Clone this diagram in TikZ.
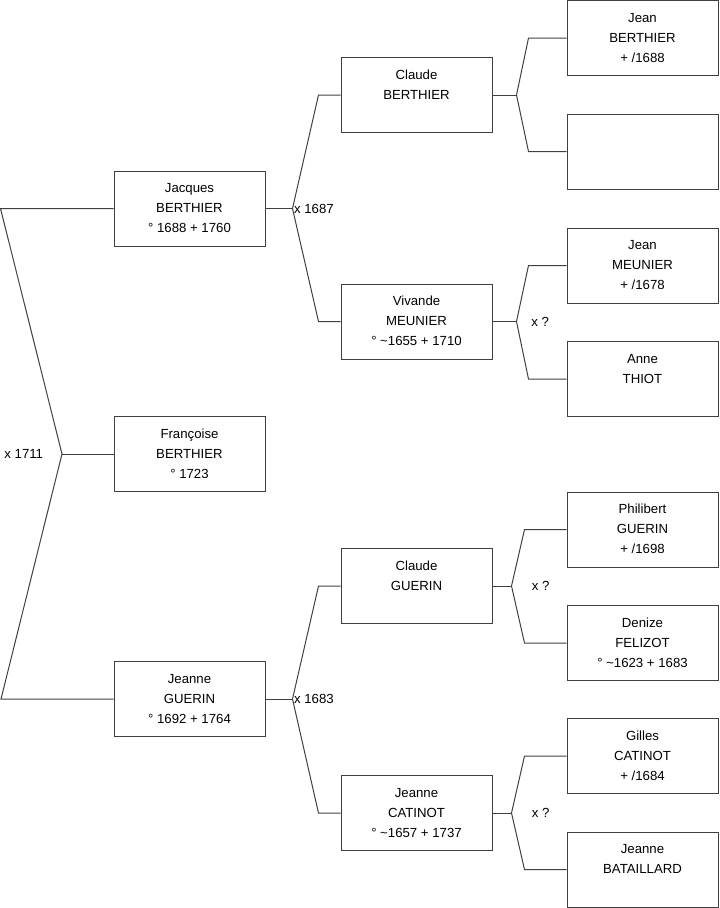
\documentclass[tikz,border=0pt]{standalone}
\usepackage{fontspec}
\setmainfont{Liberation Sans}
\usetikzlibrary{positioning}

\begin{document}
\begin{tikzpicture}[x=0.75pt, y=-0.75pt,
      every node/.style={font=\fontsize{9.9}{15}\selectfont},
      pers/.style={draw=black!75, line width=0.75pt, minimum width=113.25pt,
          minimum height=56.25pt, inner sep=0pt, align=center},
      lnk/.style={draw=black!75, line width=0.75pt},
      lbl/.style={inner sep=0pt},
    ]
    \useasboundingbox (0,0) rectangle (719,908);

    % Persons: name / x / y / first name / surname / dates
    \foreach \n/\x/\y/\a/\b/\c in {
      jacques/189.5/208.5/Jacques/BERTHIER/{° 1688 + 1760},
        francoise/189.5/454/Françoise/BERTHIER/{° 1723},
        jeanneG/189.5/699/Jeanne/GUERIN/{° 1692 + 1764},
        claudeB/416.5/95/Claude/BERTHIER/{},
        vivande/416.5/321.5/Vivande/MEUNIER/{° \textasciitilde1655 + 1710},
        claudeG/416.5/586/Claude/GUERIN/{},
        jeanneC/416.5/813/Jeanne/CATINOT/{° \textasciitilde1657 + 1737},
        jeanB/642.5/38/Jean/BERTHIER/{+ /1688},
        vide/642.5/151.5/{}/{}/{},
        jeanM/642.5/265.5/Jean/MEUNIER/{+ /1678},
        anne/642.5/379/Anne/THIOT/{},
        philibert/642.5/529.5/Philibert/GUERIN/{+ /1698},
        denize/642.5/643/Denize/FELIZOT/{° \textasciitilde1623 + 1683},
        gilles/642.5/756/Gilles/CATINOT/{+ /1684},
        jeanneB/642.5/869.5/Jeanne/BATAILLARD/{}}{
        \node[pers] (\n) at (\x,\y) {\strut\a\\\strut\b\\\strut\c};
      }

    % Child -> father and mother
    \foreach \kid/\fa/\mo/\gap/\dx in {
      jacques/claudeB/vivande/27/22,
        jeanneG/claudeG/jeanneC/27/22,
        claudeB/jeanB/vide/24/38,
        vivande/jeanM/anne/24/38,
        claudeG/philibert/denize/19/42,
        jeanneC/gilles/jeanneB/19/42}{
        \draw[lnk] (\kid.east) -- ++(\gap,0) coordinate (\kid-m);
        \draw[lnk] (\fa.west) -- ++(-\dx,0) -- (\kid-m);
        \draw[lnk] (\mo.west) -- ++(-\dx,0) -- (\kid-m);
      }

    % Root: Francoise
    \coordinate (r0) at (62,454);
    \draw[lnk] (francoise.west) -- (r0);
    \draw[lnk] (jacques.west) -- ++(-113,0) -- (r0) -- ++(-61,245) -- (jeanneG.west);

    % Marriages
    \node[lbl, left=14pt of r0] (m0) {x 1711};
    \node[lbl, right=1pt of jacques-m] (m1) {x 1687};
    \node[lbl, right=1pt of jeanneG-m] (m2) {x 1683};
    \node[lbl, right=11pt of vivande-m] (m3) {x ?};
    \node[lbl, right=15pt of claudeG-m] (m4) {x ?};
    \node[lbl, right=15pt of jeanneC-m] (m5) {x ?};
  \end{tikzpicture}
\end{document}
